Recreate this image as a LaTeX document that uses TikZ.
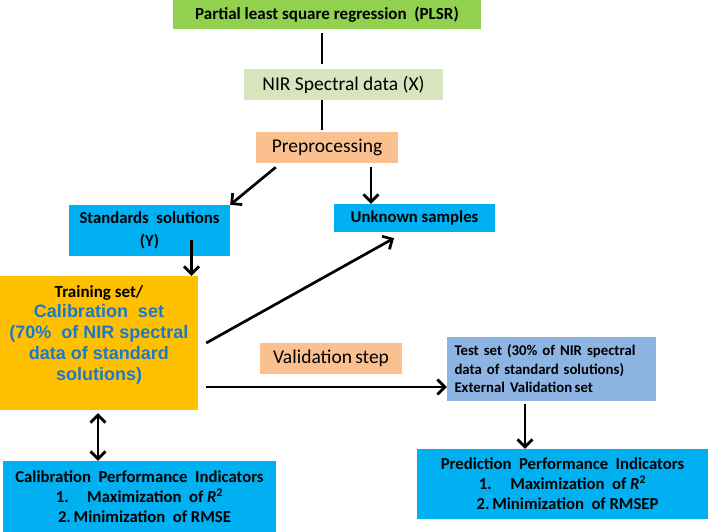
\documentclass[tikz,border=0pt]{standalone}
\usepackage{fontspec}
\setmainfont{Carlito}
\newfontfamily\arialf{Liberation Sans}
\usetikzlibrary{arrows.meta}
\definecolor{cgreen}{HTML}{92D050}
\definecolor{clgreen}{HTML}{D7E4BD}
\definecolor{csalmon}{HTML}{FAC090}
\definecolor{cblue}{HTML}{00B0F0}
\definecolor{corange}{HTML}{FFC000}
\definecolor{ctest}{HTML}{8DB4E2}
\definecolor{ctxtblue}{HTML}{1E78C8}
\begin{document}
\begin{tikzpicture}[x=1pt,y=-1pt,
  box/.style={inner sep=0pt, align=center, text=black},
  conn/.style={line width=2.7pt, black},
  arr/.style={conn, -{Straight Barb[length=7.5pt,width=15pt]}},
  darr/.style={conn, {Straight Barb[length=7.5pt,width=15pt]}-{Straight Barb[length=7.5pt,width=15pt]}},
  fr/.style={font=\fontsize{19.5}{22}\selectfont}
]
\useasboundingbox (0,0) rectangle (709,532);
\fill[white] (0,0) rectangle (709,532);
\node[box, font=\fontsize{17}{20}\selectfont\bfseries, fill=cgreen, minimum width=308pt, minimum height=29pt] (plsr) at (327,14.5) {Partial least square regression\ \ (PLSR)};
\node[box, fr, fill=clgreen, minimum width=199pt, minimum height=31pt] (nir) at (343.5,84.5) {NIR Spectral data (X)};
\node[box, fr, fill=csalmon, minimum width=142pt, minimum height=31pt] (pre) at (327,147.5) {Preprocessing};
\node[box, font=\fontsize{16.7}{23}\selectfont\bfseries, fill=cblue, minimum width=161pt, minimum height=51pt] (std) at (149.5,230.5) {Standards\ \ solutions\\(Y)};
\node[box, font=\fontsize{16.7}{20}\selectfont\bfseries, fill=cblue, minimum width=161pt, minimum height=28pt] (unk) at (414.5,218) {Unknown samples};
\node[box, fill=corange, minimum width=198pt, minimum height=134pt] (train) at (99,343) {};
\node[box, font=\fontsize{17}{20}\selectfont\bfseries, anchor=base] (traintitle) at (99,297) {Training set/};
\node[box, font=\arialf\bfseries\fontsize{18}{21}\selectfont, text=ctxtblue, anchor=base] (traintxt) at (99,317) {Calibration\ \ set};
\node[box, font=\arialf\bfseries\fontsize{18}{21}\selectfont, text=ctxtblue, anchor=base] (traintxt2) at (99,338) {(70\%\ \ of NIR\ spectral};
\node[box, font=\arialf\bfseries\fontsize{18}{21}\selectfont, text=ctxtblue, anchor=base] (traintxt3) at (99,359.5) {data of standard};
\node[box, font=\arialf\bfseries\fontsize{18}{21}\selectfont, text=ctxtblue, anchor=base] (traintxt4) at (99,380) {solutions)};
\node[box, fr, fill=csalmon, minimum width=142pt, minimum height=31pt] (val) at (331,358.5) {Validation\,step};
\node[box, fill=ctest, minimum width=209pt, minimum height=64pt, align=left, font=\fontsize{14.8}{18.5}\selectfont\bfseries, text width=194pt] (test) at (551.5,369) {Test set (30\% of NIR spectral\\data of standard solutions)\\External Validation\,set};
\node[box, fill=cblue, minimum width=291pt, minimum height=70pt, font=\fontsize{16.7}{20}\selectfont\bfseries] (pred) at (562.5,484) {Prediction\ \ Performance\ \ Indicators\\1.\hspace{1.1em}Maximization\ \ of \textit{R}\textsuperscript{2}\\\hspace{0.6em}2.\,Minimization\ \ of RMSEP};
\node[box, fill=cblue, minimum width=273pt, minimum height=71pt, font=\fontsize{16.7}{20}\selectfont\bfseries] (calib) at (139.5,496.5) {Calibration\ \ Performance\ \ Indicators\\1.\hspace{1.1em}Maximization\ \ of \textit{R}\textsuperscript{2}\\\hspace{0.6em}2.\,Minimization\ \ of RMSE};
% connectors
\draw[conn] ([xshift=-5pt,yshift=-4pt]plsr.south) -- ([xshift=-5pt,yshift=5pt]plsr.south |- nir.north);
\draw[conn] ([xshift=-21.5pt]nir.south) -- ([xshift=-5pt,yshift=2pt]pre.north);
\draw[arr] ([xshift=20pt,yshift=-4pt]pre.south west) -- (std.north east);
\draw[arr] ([xshift=44pt,yshift=-4pt]pre.south) -- ([xshift=44pt]pre.south |- unk.north);
\draw[arr] ([xshift=42pt,yshift=16pt]std.south) -- ([xshift=42pt]std.south |- train.north);
\draw[arr] ([xshift=8pt]train.east) -- ([xshift=-20.5pt,yshift=-6pt]unk.south);
\draw[arr] ([xshift=8pt,yshift=-44pt]train.east) -- ([yshift=-44pt]train.east -| test.west);
\draw[arr] ([xshift=-26.5pt,yshift=-3pt]test.south) -- ([xshift=-26.5pt]test.south |- pred.north);
\draw[darr] ([xshift=-1pt,yshift=-3pt]train.south) -- ([xshift=-1pt]train.south |- calib.north);
\end{tikzpicture}
\end{document}
